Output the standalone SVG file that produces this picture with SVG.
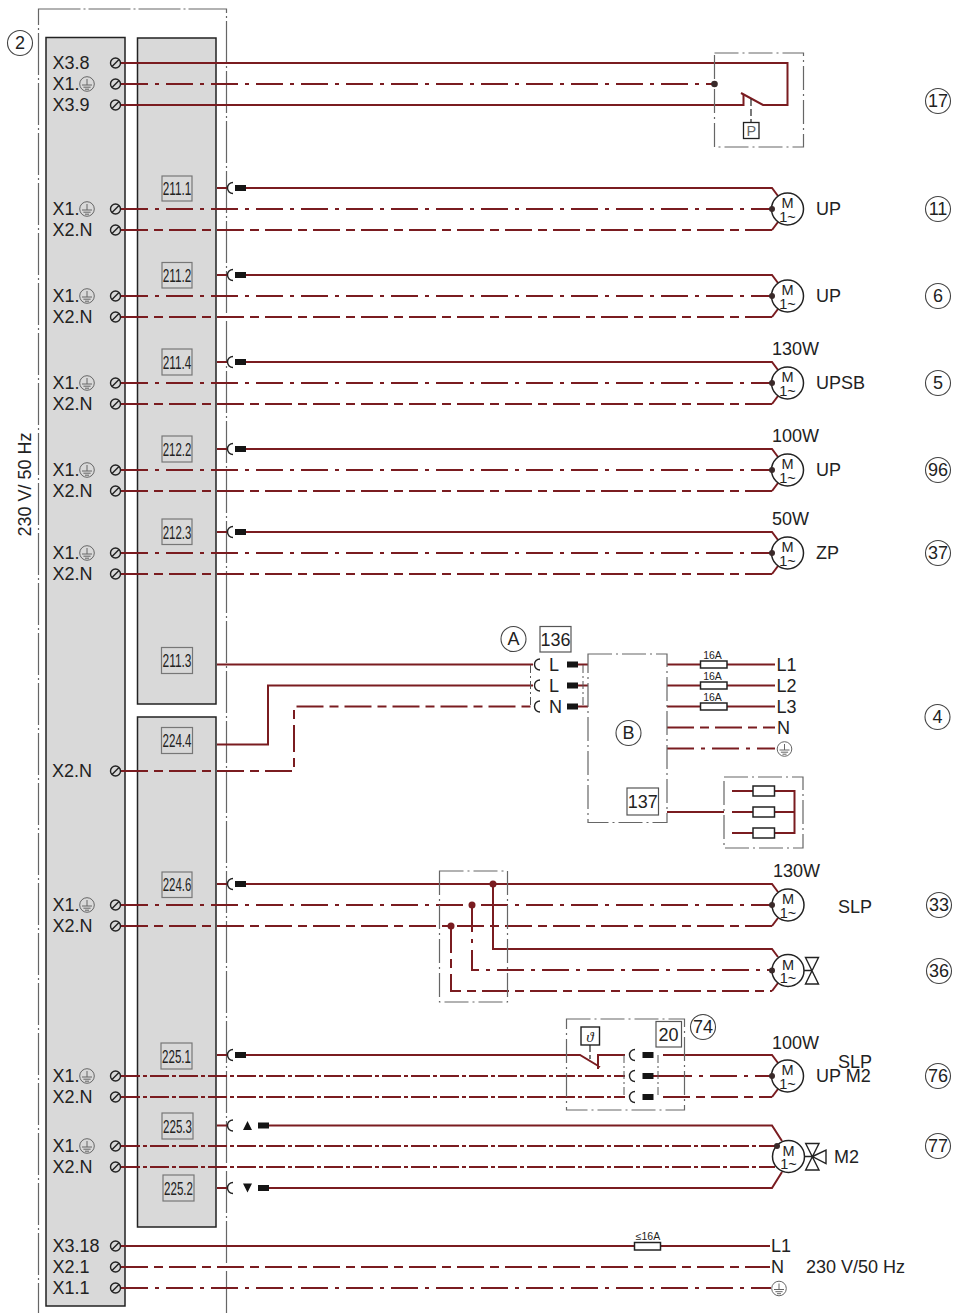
<svg xmlns="http://www.w3.org/2000/svg" width="953" height="1313" viewBox="0 0 953 1313">
<style>
text{font-family:"Liberation Sans",Arial,sans-serif;font-size:18px;fill:#222}
.s,.e,.n,.d{fill:none;stroke:#7a1c20;stroke-width:2}
.e{stroke-dasharray:27 7 4 7}
.n{stroke-dasharray:27 6 9 6}
.d{stroke-dasharray:19 3 4 3}
.bar{fill:#d9d9d9;stroke:#222;stroke-width:1.5}
.ol{fill:none;stroke:#666;stroke-width:1.2;stroke-dasharray:42 3 2 3}
.ol2{fill:none;stroke:#666;stroke-width:1.2;stroke-dasharray:24 4 2 4}
.vd{fill:none;stroke:#555;stroke-width:1;stroke-dasharray:8 3 2 3}
.lb{fill:none;stroke:#777;stroke-width:1.2}
.bx{fill:#fff;stroke:#555;stroke-width:1.2}
.k{fill:none;stroke:#222;stroke-width:1.4}
.m{fill:#fff;stroke:#222;stroke-width:1.5}
.c{fill:none;stroke:#444;stroke-width:1.1}
.dot{fill:#3a2a2a}
.rd{fill:#7a1c20}
.blk{fill:#151515}
.t{font-size:14.5px;text-anchor:middle}
.sm{font-size:10.5px;text-anchor:middle}
.mid{text-anchor:middle}
</style>
<defs>
<g id="term"><circle cx="0" cy="0" r="5" fill="none" stroke="#222" stroke-width="1.4"/><path d="M-3.5 3.5L3.5 -3.5" stroke="#222" stroke-width="1.4"/></g>
<g id="gnd"><circle cx="0" cy="0" r="7.3" fill="none" stroke="#666" stroke-width="1"/><path d="M0 -5V1M-5 1H5M-3.6 3.2H3.6M-2 5.2H2" fill="none" stroke="#666" stroke-width="1"/></g>
<g id="arc"><path d="M6 -5.5A5.5 5.5 0 0 0 6 5.5" fill="none" stroke="#222" stroke-width="1.4"/></g>
<rect id="con" x="0" y="-3" width="11" height="6" fill="#151515"/>
</defs>

<g id="panel">
<rect x="38.5" y="9" width="188" height="1320" class="ol"/>
<rect x="46" y="37.5" width="79" height="1268.5" class="bar"/>
<rect x="137.5" y="38" width="78.5" height="666" class="bar"/>
<rect x="137.5" y="717" width="78.5" height="510" class="bar"/>
<text transform="translate(31 484.5) rotate(-90)" class="mid">230 V/ 50 Hz</text>
</g>

<g id="connectors">
<path class="s" d="M121 63H787.5V105H763L741 93"/>
<path class="e" d="M121 84H714"/>
<path class="s" d="M121 105H743.5V94"/>
<path d="M751 99V122" fill="none" stroke="#222" stroke-width="1.2" stroke-dasharray="7 3"/>

<path class="s" d="M217 188H228M246 188H772L778 196"/>
<path class="e" d="M121 209H772"/>
<path class="n" d="M121 230H772"/><path class="s" d="M772 230L778 222"/>
<path class="s" d="M217 275H228M246 275H772L778 283"/>
<path class="e" d="M121 296H772"/>
<path class="n" d="M121 317H772"/><path class="s" d="M772 317L778 309"/>
<path class="s" d="M217 362H228M246 362H772L778 370"/>
<path class="e" d="M121 383H772"/>
<path class="n" d="M121 404H772"/><path class="s" d="M772 404L778 396"/>
<path class="s" d="M217 449H228M246 449H772L778 457"/>
<path class="e" d="M121 470H772"/>
<path class="n" d="M121 491H772"/><path class="s" d="M772 491L778 483"/>
<path class="s" d="M217 532H228M246 532H772L778 540"/>
<path class="e" d="M121 553H772"/>
<path class="n" d="M121 574H772"/><path class="s" d="M772 574L778 566"/>

<path class="s" d="M217 664.5H533M578 664.5H588"/>
<path class="s" d="M217 744.5H268V685.5H533M578 685.5H588"/>
<path class="n" d="M121 771H294V706.5H533"/><path class="s" d="M578 706.5H588"/>
<path class="vd" d="M530.5 665V706M583 665V706"/>
<path class="s" d="M667 664.5H775M667 685.5H775M667 706.5H775"/>
<path class="n" d="M667 727.5H775"/>
<path class="e" d="M667 748.5H775"/>
<path class="s" d="M667 812H724M732 791H753M732 812H753M732 833H753M774.5 791H794.5V833H774.5M774.5 812H794.5"/>

<path class="s" d="M217 884H228M246 884H772L778 892"/>
<path class="e" d="M121 905H772"/>
<path class="n" d="M121 926H772"/><path class="s" d="M772 926L778 918"/>
<path class="s" d="M493 884V949H772L778 957"/>
<path class="e" d="M472 905V970H772"/>
<path class="n" d="M451 926V991H772"/><path class="s" d="M772 991L778 983"/>

<path class="s" d="M217 1055H228M246 1055H580L600 1067M598 1069V1055H625M663 1055H772L778 1063"/>
<path class="d" d="M121 1076H625"/>
<path class="s" d="M653 1076H665"/>
<path class="e" d="M665 1076H772"/>
<path class="d" d="M121 1097H625"/>
<path class="n" d="M663 1097H772"/><path class="s" d="M772 1097L778 1089"/>
<path class="vd" d="M624 1055V1097M658 1055V1097"/>
<path d="M590 1045V1059" fill="none" stroke="#222" stroke-width="1.2" stroke-dasharray="7 3"/>

<path class="s" d="M217 1125.5H228M269 1125.5H772L782 1141"/>
<path class="d" d="M121 1146H777"/>
<path class="d" d="M121 1167H775"/>
<path class="s" d="M217 1188H228M269 1188H772L782 1172"/>

<path class="s" d="M121 1246H770"/>
<path class="n" d="M121 1267H770"/>
<path class="e" d="M121 1288H771"/>
</g>

<g id="terminals">
<use href="#term" x="115.5" y="63"/><use href="#term" x="115.5" y="84"/><use href="#term" x="115.5" y="105"/>
<use href="#term" x="115.5" y="209"/><use href="#term" x="115.5" y="230"/>
<use href="#term" x="115.5" y="296"/><use href="#term" x="115.5" y="317"/>
<use href="#term" x="115.5" y="383"/><use href="#term" x="115.5" y="404"/>
<use href="#term" x="115.5" y="470"/><use href="#term" x="115.5" y="491"/>
<use href="#term" x="115.5" y="553"/><use href="#term" x="115.5" y="574"/>
<use href="#term" x="115.5" y="771"/>
<use href="#term" x="115.5" y="905"/><use href="#term" x="115.5" y="926"/>
<use href="#term" x="115.5" y="1076"/><use href="#term" x="115.5" y="1097"/>
<use href="#term" x="115.5" y="1146"/><use href="#term" x="115.5" y="1167"/>
<use href="#term" x="115.5" y="1246"/><use href="#term" x="115.5" y="1267"/><use href="#term" x="115.5" y="1288"/>
<use href="#gnd" x="87" y="84"/><use href="#gnd" x="87" y="209"/><use href="#gnd" x="87" y="296"/><use href="#gnd" x="87" y="383"/><use href="#gnd" x="87" y="470"/><use href="#gnd" x="87" y="553"/><use href="#gnd" x="87" y="905"/><use href="#gnd" x="87" y="1076"/><use href="#gnd" x="87" y="1146"/>
<text x="52.500" y="69">X3.8</text><text x="52.500" y="90">X1.</text><text x="52.500" y="111">X3.9</text>
<text x="52.500" y="215">X1.</text><text x="52.500" y="236">X2.N</text>
<text x="52.500" y="302">X1.</text><text x="52.500" y="323">X2.N</text>
<text x="52.500" y="389">X1.</text><text x="52.500" y="410">X2.N</text>
<text x="52.500" y="476">X1.</text><text x="52.500" y="497">X2.N</text>
<text x="52.500" y="559">X1.</text><text x="52.500" y="580">X2.N</text>
<text x="52" y="777">X2.N</text>
<text x="52.500" y="911">X1.</text><text x="52.500" y="932">X2.N</text>
<text x="52.500" y="1082">X1.</text><text x="52.500" y="1103">X2.N</text>
<text x="52.500" y="1152">X1.</text><text x="52.500" y="1173">X2.N</text>
<text x="52.500" y="1252">X3.18</text><text x="52.500" y="1273">X2.1</text><text x="52.500" y="1294">X1.1</text>
</g>

<g id="modules">
<rect x="162" y="176" width="30" height="25" class="lb"/><text x="162.700" y="195" textLength="28.600" lengthAdjust="spacingAndGlyphs">211.1</text>
<rect x="162" y="262.500" width="30" height="25.500" class="lb"/><text x="162.700" y="282" textLength="28.600" lengthAdjust="spacingAndGlyphs">211.2</text>
<rect x="162" y="349" width="30" height="26" class="lb"/><text x="162.700" y="368.500" textLength="28.600" lengthAdjust="spacingAndGlyphs">211.4</text>
<rect x="162" y="436" width="30" height="26" class="lb"/><text x="162.700" y="455.500" textLength="28.600" lengthAdjust="spacingAndGlyphs">212.2</text>
<rect x="162" y="519" width="30" height="25.500" class="lb"/><text x="162.700" y="538.500" textLength="28.600" lengthAdjust="spacingAndGlyphs">212.3</text>
<rect x="161.500" y="647.500" width="31" height="26" class="lb"/><text x="162.500" y="667" textLength="29" lengthAdjust="spacingAndGlyphs">211.3</text>
<rect x="161.500" y="727.500" width="31" height="26" class="lb"/><text x="162.500" y="747" textLength="29" lengthAdjust="spacingAndGlyphs">224.4</text>
<rect x="162" y="872" width="30" height="25.500" class="lb"/><text x="162.700" y="891" textLength="28.600" lengthAdjust="spacingAndGlyphs">224.6</text>
<rect x="161" y="1043" width="31" height="26" class="lb"/><text x="162" y="1062.500" textLength="29" lengthAdjust="spacingAndGlyphs">225.1</text>
<rect x="162" y="1113" width="31" height="26" class="lb"/><text x="163" y="1132.500" textLength="29" lengthAdjust="spacingAndGlyphs">225.3</text>
<rect x="163" y="1175" width="31" height="26" class="lb"/><text x="164" y="1194.500" textLength="29" lengthAdjust="spacingAndGlyphs">225.2</text>
</g>

<g id="connectors-plugs">
<use href="#arc" x="227" y="188"/><use href="#con" x="235" y="188"/>
<use href="#arc" x="227" y="275"/><use href="#con" x="235" y="275"/>
<use href="#arc" x="227" y="362"/><use href="#con" x="235" y="362"/>
<use href="#arc" x="227" y="449"/><use href="#con" x="235" y="449"/>
<use href="#arc" x="227" y="532"/><use href="#con" x="235" y="532"/>
<use href="#arc" x="227" y="884"/><use href="#con" x="235" y="884"/>
<use href="#arc" x="227" y="1055"/><use href="#con" x="235" y="1055"/>
<use href="#arc" x="227" y="1125.500"/><use href="#con" x="258" y="1125.500"/>
<use href="#arc" x="227" y="1188"/><use href="#con" x="258" y="1188"/>
<path class="blk" d="M247.500 1121L252 1130H243ZM243 1183.500H252L247.500 1192.500Z"/>
</g>

<g id="node-pressure">
<rect x="714.500" y="53" width="89" height="94" class="ol2"/>
<circle cx="714.500" cy="84" r="3.300" class="dot"/>
<rect x="743.500" y="122.500" width="15.500" height="16" fill="#fff" stroke="#222" stroke-width="1.300"/>
<text x="751.300" y="136" class="t" style="fill:#666">P</text>
</g>

<g id="node-m11"><circle cx="787.500" cy="209" r="16" class="m"/><circle cx="772" cy="209" r="3" class="dot"/><text x="787.500" y="208" class="t">M</text><text x="787.500" y="221.500" class="t">1~</text><text x="816" y="215">UP</text></g>
<g id="node-m6"><circle cx="787.500" cy="296" r="16" class="m"/><circle cx="772" cy="296" r="3" class="dot"/><text x="787.500" y="295" class="t">M</text><text x="787.500" y="308.500" class="t">1~</text><text x="816" y="302">UP</text></g>
<g id="node-m5"><circle cx="787.500" cy="383" r="16" class="m"/><circle cx="772" cy="383" r="3" class="dot"/><text x="787.500" y="382" class="t">M</text><text x="787.500" y="395.500" class="t">1~</text><text x="816" y="389">UPSB</text><text x="772" y="355">130W</text></g>
<g id="node-m96"><circle cx="787.500" cy="470" r="16" class="m"/><circle cx="772" cy="470" r="3" class="dot"/><text x="787.500" y="469" class="t">M</text><text x="787.500" y="482.500" class="t">1~</text><text x="816" y="476">UP</text><text x="772" y="442">100W</text></g>
<g id="node-m37"><circle cx="787.500" cy="553" r="16" class="m"/><circle cx="772" cy="553" r="3" class="dot"/><text x="787.500" y="552" class="t">M</text><text x="787.500" y="565.500" class="t">1~</text><text x="816" y="559">ZP</text><text x="772" y="525">50W</text></g>

<g id="node-a">
<circle cx="513.500" cy="639" r="12.500" class="c"/><text x="513.500" y="645" class="mid">A</text>
<rect x="540" y="626.500" width="31" height="25.500" class="bx"/><text x="555.500" y="646" class="mid">136</text>
<use href="#arc" x="534" y="664.500"/><use href="#arc" x="534" y="685.500"/><use href="#arc" x="534" y="706.500"/>
<use href="#con" x="567" y="664.500"/><use href="#con" x="567" y="685.500"/><use href="#con" x="567" y="706.500"/>
<text x="549" y="671">L</text><text x="549" y="692">L</text><text x="549" y="713">N</text>
</g>
<g id="node-b">
<rect x="588" y="654" width="79" height="168.500" class="ol2"/>
<circle cx="628.500" cy="733" r="12.500" class="c"/><text x="628.500" y="739" class="mid">B</text>
<rect x="627" y="788" width="31.500" height="27" class="bx"/><text x="642.700" y="808" class="mid">137</text>
</g>
<g id="node-fuses">
<rect x="700.500" y="661" width="26.500" height="7" class="m" stroke-width="1.200"/><text x="712.500" y="658.500" class="sm">16A</text>
<rect x="700.500" y="682" width="26.500" height="7" class="m" stroke-width="1.200"/><text x="712.500" y="679.500" class="sm">16A</text>
<rect x="700.500" y="703" width="26.500" height="7" class="m" stroke-width="1.200"/><text x="712.500" y="700.500" class="sm">16A</text>
<text x="776.500" y="671">L1</text><text x="776.500" y="692">L2</text><text x="776.500" y="713">L3</text><text x="777" y="734">N</text>
<use href="#gnd" x="784.500" y="749"/>
</g>
<g id="node-heater">
<rect x="724" y="777" width="79" height="71" class="ol2"/>
<rect x="753" y="786" width="21.500" height="10" class="m" stroke-width="1.200"/>
<rect x="753" y="807" width="21.500" height="10" class="m" stroke-width="1.200"/>
<rect x="753" y="828" width="21.500" height="10" class="m" stroke-width="1.200"/>
</g>

<g id="node-junction">
<rect x="439.500" y="871" width="68" height="131" class="ol2"/>
<circle cx="493" cy="884" r="3.500" class="rd"/><circle cx="472" cy="905" r="3.500" class="rd"/><circle cx="451" cy="926" r="3.500" class="rd"/>
</g>
<g id="node-m33"><circle cx="788" cy="905" r="16" class="m"/><circle cx="772" cy="905" r="3" class="dot"/><text x="788" y="904" class="t">M</text><text x="788" y="917.500" class="t">1~</text><text x="773" y="877">130W</text><text x="838" y="913">SLP</text></g>
<g id="node-m36"><circle cx="788" cy="970.500" r="16" class="m"/><circle cx="772" cy="970.500" r="3" class="dot"/><text x="788" y="969.500" class="t">M</text><text x="788" y="983" class="t">1~</text><path class="k" d="M804 970.500H812M805.500 957.500H818.500L805.500 984H818.500Z"/></g>

<g id="node-thermo">
<rect x="566.500" y="1019" width="118" height="91" class="ol2"/>
<rect x="581" y="1027" width="18.500" height="18" fill="#fff" stroke="#222" stroke-width="1.400"/>
<text x="590" y="1041.500" class="t" style="font-family:'Liberation Serif',serif;font-style:italic;font-size:15px">ϑ</text>
<rect x="656" y="1021.500" width="25.500" height="25.500" class="bx"/><text x="668.500" y="1041" class="mid">20</text>
<circle cx="703" cy="1027" r="12.500" class="c"/><text x="703" y="1033" class="mid">74</text>
<use href="#arc" x="629" y="1055"/><use href="#arc" x="629" y="1076"/><use href="#arc" x="629" y="1097"/>
<use href="#con" x="642.500" y="1055"/><use href="#con" x="642.500" y="1076"/><use href="#con" x="642.500" y="1097"/>
</g>
<g id="node-m76"><circle cx="787.500" cy="1076" r="16" class="m"/><circle cx="772" cy="1076" r="3" class="dot"/><text x="787.500" y="1075" class="t">M</text><text x="787.500" y="1088.500" class="t">1~</text><text x="772" y="1049">100W</text><text x="838" y="1068">SLP</text><text x="816" y="1082">UP M2</text></g>
<g id="node-m77"><circle cx="788.500" cy="1156.500" r="16" class="m"/><circle cx="777" cy="1146" r="3" class="dot"/><text x="788.500" y="1155.500" class="t">M</text><text x="788.500" y="1169" class="t">1~</text><path class="k" d="M804.500 1156.500H812.500M805.700 1143.500H819L805.700 1170H819ZM812.500 1156.500L826 1150V1163.500Z"/><text x="834" y="1163">M2</text></g>

<g id="node-supply">
<rect x="634.500" y="1242.500" width="26" height="7.500" class="m" stroke-width="1.200"/>
<text x="648" y="1240" class="sm">≤16A</text>
<text x="771" y="1252">L1</text><text x="771" y="1273">N</text>
<use href="#gnd" x="779" y="1288.500"/>
<text x="806" y="1273">230 V/50 Hz</text>
</g>

<g id="refs">
<circle cx="20" cy="43" r="12.500" class="c"/><text x="20" y="49" class="mid">2</text>
<circle cx="938" cy="101" r="12.500" class="c"/><text x="938" y="107" class="mid">17</text>
<circle cx="938" cy="209" r="12.500" class="c"/><text x="938" y="215" class="mid">11</text>
<circle cx="938" cy="296" r="12.500" class="c"/><text x="938" y="302" class="mid">6</text>
<circle cx="938" cy="383" r="12.500" class="c"/><text x="938" y="389" class="mid">5</text>
<circle cx="938" cy="470" r="12.500" class="c"/><text x="938" y="476" class="mid">96</text>
<circle cx="938" cy="553" r="12.500" class="c"/><text x="938" y="559" class="mid">37</text>
<circle cx="937.500" cy="717" r="12.500" class="c"/><text x="937.500" y="723" class="mid">4</text>
<circle cx="939" cy="905" r="12.500" class="c"/><text x="939" y="911" class="mid">33</text>
<circle cx="939" cy="971" r="12.500" class="c"/><text x="939" y="977" class="mid">36</text>
<circle cx="938" cy="1076" r="12.500" class="c"/><text x="938" y="1082" class="mid">76</text>
<circle cx="938" cy="1146" r="12.500" class="c"/><text x="938" y="1152" class="mid">77</text>
</g>
</svg>
